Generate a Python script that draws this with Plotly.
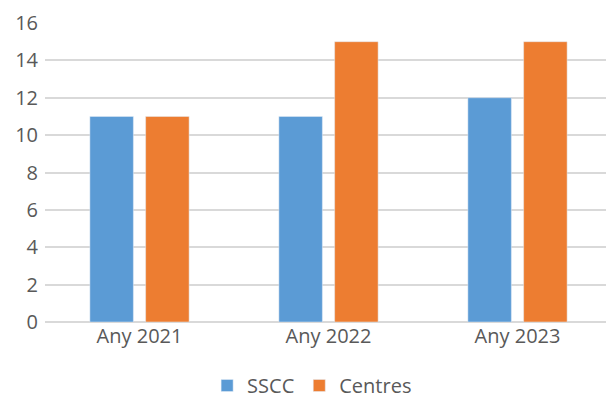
import plotly.graph_objects as go

categories = ["Any 2021", "Any 2022", "Any 2023"]
sscc = [11, 11, 12]
centres = [11, 15, 15]
yticks = [0, 2, 4, 6, 8, 10, 12, 14, 16]

fig = go.Figure()
fig.add_trace(go.Bar(name="SSCC", x=categories, y=sscc, marker_color="#5B9BD5"))
fig.add_trace(go.Bar(name="Centres", x=categories, y=centres, marker_color="#ED7D31"))

font = dict(family="Open Sans, Liberation Sans, sans-serif", size=20, color="#595959")
fig.update_layout(
    width=612, height=405,
    margin=dict(l=45, r=0, t=23, b=83, autoexpand=False),
    paper_bgcolor="white", plot_bgcolor="white",
    barmode="group", bargap=0.41, bargroupgap=0.22,
    font=font,
    showlegend=True,
    legend=dict(orientation="h", x=0.51, xanchor="center", xref="container",
                y=-0.02, yanchor="bottom", yref="container",
                font=font, traceorder="normal"),
    xaxis=dict(showgrid=False, showline=False, ticks="", tickfont=font, automargin=False),
    yaxis=dict(range=[0, 16], tickvals=yticks, showgrid=True, gridcolor="#D9D9D9",
               gridwidth=1.5, zeroline=True, zerolinecolor="#D9D9D9", zerolinewidth=1.5,
               ticks="", tickfont=font, ticklabelstandoff=6, automargin=False),
)
fig.write_html("out.html", config={"displayModeBar": False},
               post_script="document.body.style.margin='0';document.body.style.overflow='hidden';")
